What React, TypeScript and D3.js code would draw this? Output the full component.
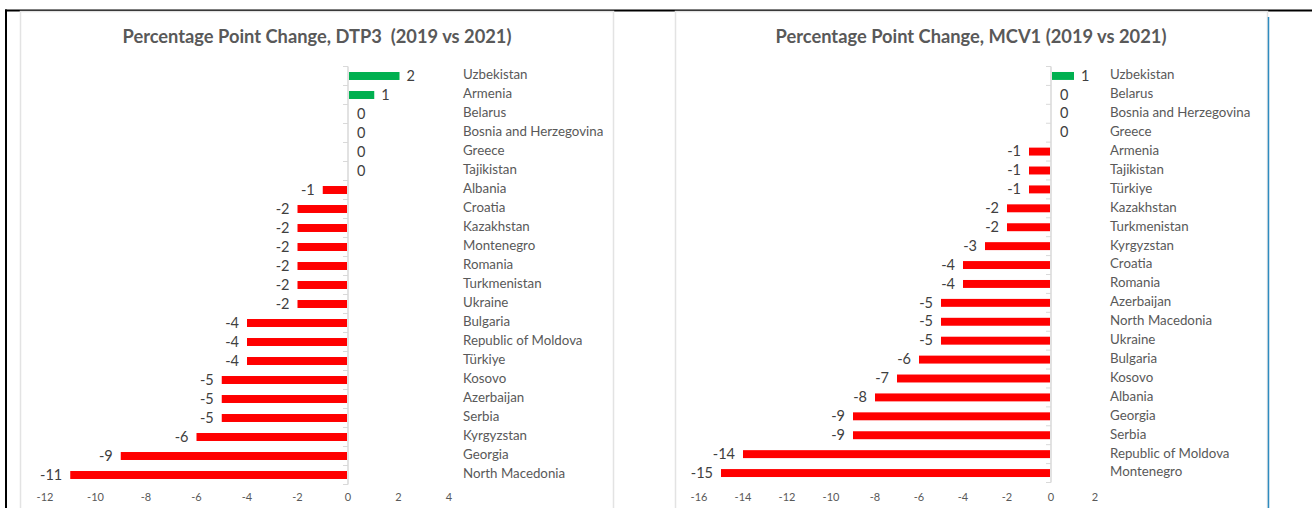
import React from 'react';
import * as d3 from 'd3';

const dtp3Countries = [
  'Uzbekistan', 'Armenia', 'Belarus', 'Bosnia and Herzegovina', 'Greece', 'Tajikistan',
  'Albania', 'Croatia', 'Kazakhstan', 'Montenegro', 'Romania', 'Turkmenistan', 'Ukraine',
  'Bulgaria', 'Republic of Moldova', 'Türkiye', 'Kosovo', 'Azerbaijan', 'Serbia',
  'Kyrgyzstan', 'Georgia', 'North Macedonia',
];
const dtp3Values = [2, 1, 0, 0, 0, 0, -1, -2, -2, -2, -2, -2, -2, -4, -4, -4, -5, -5, -5, -6, -9, -11];
const dtp3Ticks = [-12, -10, -8, -6, -4, -2, 0, 2, 4];

const mcv1Countries = [
  'Uzbekistan', 'Belarus', 'Bosnia and Herzegovina', 'Greece', 'Armenia', 'Tajikistan',
  'Türkiye', 'Kazakhstan', 'Turkmenistan', 'Kyrgyzstan', 'Croatia', 'Romania', 'Azerbaijan',
  'North Macedonia', 'Ukraine', 'Bulgaria', 'Kosovo', 'Albania', 'Georgia', 'Serbia',
  'Republic of Moldova', 'Montenegro',
];
const mcv1Values = [1, 0, 0, 0, -1, -1, -1, -2, -2, -3, -4, -4, -5, -5, -5, -6, -7, -8, -9, -9, -14, -15];
const mcv1Ticks = [-16, -14, -12, -10, -8, -6, -4, -2, 0, 2];

const FONT = 'Lato, "Open Sans", sans-serif';
const GREEN = '#00B050';
const RED = '#FF0000';
const AXIS = '#D9D9D9';

interface PanelProps {
  title: string;
  titleX: number;
  countries: string[];
  values: number[];
  ticks: number[];
  xRange: [number, number];
  yRange: [number, number];
  labelX: number;
}

const Panel: React.FC<PanelProps> = ({ title, titleX, countries, values, ticks, xRange, yRange, labelX }) => {
  const x = d3.scaleLinear()
    .domain([ticks[0], ticks[ticks.length - 1]])
    .range(xRange);

  const y = d3.scaleBand<string>()
    .domain(countries)
    .range(yRange)
    .paddingInner(0.58)
    .paddingOuter(0.29);

  const step = y.step();
  const bh = y.bandwidth();
  const x0 = x(0);

  return (
    <g fontFamily={FONT}>
      <text x={titleX} y={43} textAnchor="middle" fontSize={18.3} fontWeight="bold" fill="#595959"
        style={{ whiteSpace: 'pre' }}>
        {title}
      </text>

      {/* category axis */}
      <line x1={x0} x2={x0} y1={yRange[0]} y2={yRange[1]} stroke={AXIS} strokeWidth={1.5} />
      {d3.range(countries.length + 1).map(i => {
        const ty = yRange[0] + i * step;
        return <line key={i} x1={x0 - 5} x2={x0} y1={ty} y2={ty} stroke={AXIS} strokeWidth={1} />;
      })}

      {countries.map((c, i) => {
        const v = values[i];
        const cy = (y(c) ?? 0) + bh / 2;
        const x1 = x(Math.min(0, v));
        const w = Math.abs(x(v) - x0);
        let lx = x0 + 9;
        let anchor: 'start' | 'end' = 'start';
        if (v > 0) lx = x(v) + 8;
        if (v < 0) { lx = x(v) - 8; anchor = 'end'; }
        return (
          <g key={c}>
            {v !== 0 && (
              <rect x={v < 0 ? x1 : x0 + 1} y={y(c)} width={v < 0 ? w - 1 : w} height={bh} fill={v > 0 ? GREEN : RED} />
            )}
            <text x={lx} y={cy + 1} dominantBaseline="middle" textAnchor={anchor} fontSize={14.5} fill="#404040">
              {v}
            </text>
            <text x={labelX} y={cy} dominantBaseline="middle" fontSize={13.3} fill="#595959">
              {c}
            </text>
          </g>
        );
      })}

      {ticks.map(t => (
        <text key={t} x={x(t)} y={498} dominantBaseline="middle" textAnchor="middle" fontSize={11} fill="#595959">
          {t}
        </text>
      ))}
    </g>
  );
};

export default function App() {
  return (
    <svg width={1312} height={508} style={{ position: 'absolute', left: 0, top: 0, background: '#fff' }}>
      {/* outer frame */}
      <rect x={5} y={9.5} width={1307} height={2} fill="#000" />
      <rect x={5} y={9.5} width={2} height={499} fill="#000" />

      {/* panels */}
      <rect x={20.5} y={11.5} width={593} height={510} fill="#fff" stroke="#E3E3E3" strokeWidth={1.5} />
      <rect x={675.5} y={11.5} width={592} height={510} fill="#fff" stroke="#E3E3E3" strokeWidth={1.5} />
      <line x1={1268.5} x2={1268.5} y1={17} y2={508} stroke="#2E8BC0" strokeWidth={1.5} />

      <Panel
        title="Percentage Point Change, DTP3  (2019 vs 2021)"
        titleX={317}
        countries={dtp3Countries}
        values={dtp3Values}
        ticks={dtp3Ticks}
        xRange={[45, 449]}
        yRange={[66.5, 484.5]}
        labelX={463}
      />
      <Panel
        title="Percentage Point Change, MCV1 (2019 vs 2021)"
        titleX={971}
        countries={mcv1Countries}
        values={mcv1Values}
        ticks={mcv1Ticks}
        xRange={[699, 1095]}
        yRange={[66.5, 482.5]}
        labelX={1110}
      />
    </svg>
  );
}
